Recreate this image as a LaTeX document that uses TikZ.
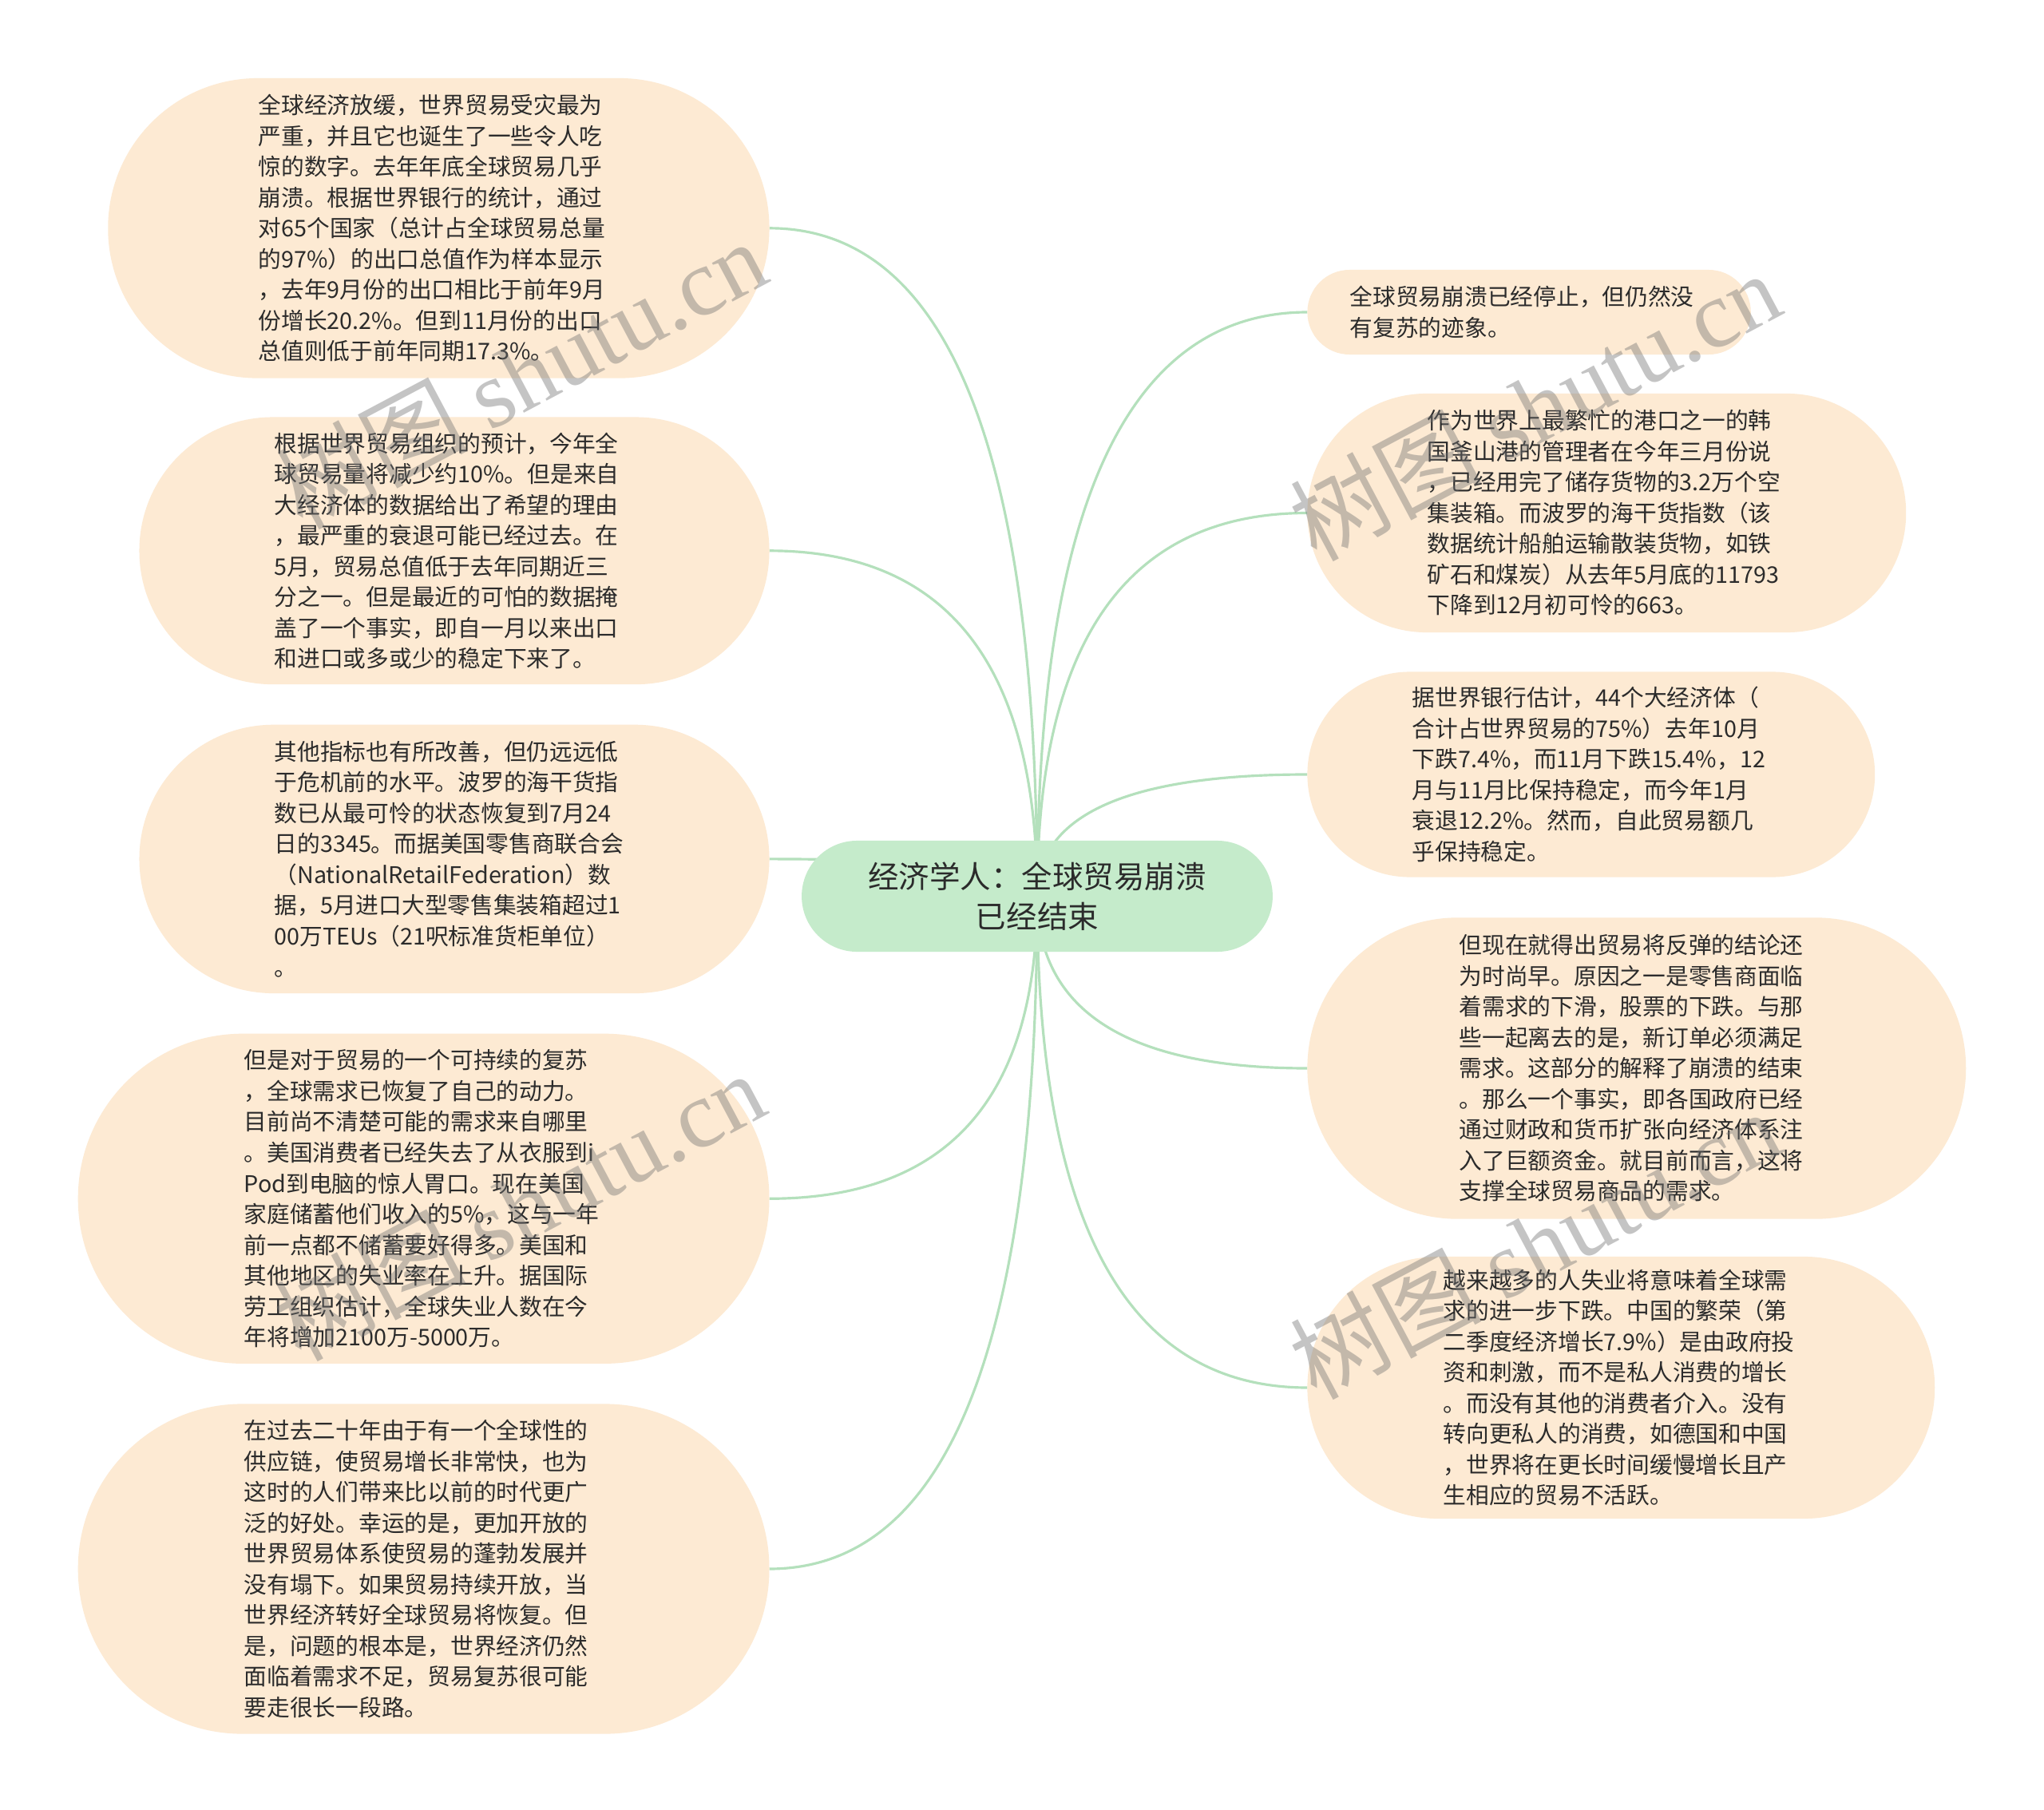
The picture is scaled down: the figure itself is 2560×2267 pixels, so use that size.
\documentclass[tikz,border=0pt]{standalone}
\usepackage{fontspec}
\setmainfont{Noto Sans CJK SC}
\newfontfamily\wmcjk{Noto Sans CJK SC}
\newfontfamily\wmlat{Liberation Serif}
\usetikzlibrary{calc,backgrounds}
\definecolor{peach}{HTML}{FDEAD3}
\definecolor{rootgreen}{HTML}{C5EBCB}
\definecolor{linkgreen}{HTML}{B4E0BC}
\definecolor{txt}{HTML}{2B2B2B}
\begin{document}
\begin{tikzpicture}[x=0.01cm,y=-0.01cm,
  bubble/.style={draw=none, fill=peach, rectangle, inner sep=0pt, outer sep=0pt},
  body/.style={anchor=west, align=left, inner sep=0pt, text=txt, font=\fontsize{8.17pt}{10.95pt}\selectfont},
  link/.style={draw=linkgreen, line width=0.9pt},
  wm/.style={rotate=28, text=black!55, text opacity=0.42, inner sep=0pt, font=\fontsize{34pt}{34pt}\selectfont}
]
\useasboundingbox (0,0) rectangle (2560,2267);

% root
\node[fill=rootgreen, minimum width=5.895cm, minimum height=1.39cm, rounded corners=0.694cm,
  align=center, inner sep=0pt, text=txt, font=\fontsize{10.95pt}{14.4pt}\selectfont] (R) at (1299,1122.5)
  {经济学人：全球贸易崩溃\\已经结束};

% left bubbles
\node[bubble, minimum width=8.278cm, minimum height=3.755cm, rounded corners=1.875cm] (L1) at (549.4,285.8) {};
\node[bubble, minimum width=7.886cm, minimum height=3.345cm, rounded corners=1.67cm] (L2) at (569,689.8) {};
\node[bubble, minimum width=7.886cm, minimum height=3.362cm, rounded corners=1.68cm] (L3) at (569,1075.9) {};
\node[bubble, minimum width=8.653cm, minimum height=4.13cm, rounded corners=2.06cm] (L4) at (530.6,1501.3) {};
\node[bubble, minimum width=8.653cm, minimum height=4.13cm, rounded corners=2.06cm] (L5) at (530.6,1965) {};

% right bubbles
\node[bubble, minimum width=5.551cm, minimum height=1.06cm, rounded corners=0.529cm] (R1) at (1915.1,391) {};
\node[bubble, minimum width=7.494cm, minimum height=2.99cm, rounded corners=1.494cm] (R2) at (2012.3,642.5) {};
\node[bubble, minimum width=7.104cm, minimum height=2.57cm, rounded corners=1.284cm] (R3) at (1992.8,970) {};
\node[bubble, minimum width=8.244cm, minimum height=3.772cm, rounded corners=1.885cm] (R4) at (2049.8,1338) {};
\node[bubble, minimum width=7.854cm, minimum height=3.28cm, rounded corners=1.639cm] (R5) at (2030.3,1738) {};

% connectors
\begin{scope}[on background layer]
\fill[white] (0,0) rectangle (2560,2267);
\foreach \n/\a in {L1/east,L2/east,L3/east,L4/east,L5/east,R1/west,R2/west,R3/west,R4/west,R5/west}{
  \draw[link] (R.center) .. controls ($(R.center)!0.6667!(R.center |- \n.\a)$) and ($(\n.\a)!0.6667!(R.center |- \n.\a)$) .. (\n.\a);
}
\end{scope}

% texts
\node[body] (tL1) at (323,285.8) {全球经济放缓，世界贸易受灾最为\\严重，并且它也诞生了一些令人吃\\惊的数字。去年年底全球贸易几乎\\崩溃。根据世界银行的统计，通过\\对65个国家（总计占全球贸易总量\\的97\%）的出口总值作为样本显示\\，去年9月份的出口相比于前年9月\\份增长20.2\%。但到11月份的出口\\总值则低于前年同期17.3\%。};
\node[body] (tL2) at (343,689.8) {根据世界贸易组织的预计，今年全\\球贸易量将减少约10\%。但是来自\\大经济体的数据给出了希望的理由\\，最严重的衰退可能已经过去。在\\5月，贸易总值低于去年同期近三\\分之一。但是最近的可怕的数据掩\\盖了一个事实，即自一月以来出口\\和进口或多或少的稳定下来了。};
\node[body] (tL3) at (343,1076) {其他指标也有所改善，但仍远远低\\于危机前的水平。波罗的海干货指\\数已从最可怜的状态恢复到7月24\\日的3345。而据美国零售商联合会\\（NationalRetailFederation）数\\据，5月进口大型零售集装箱超过1\\00万TEUs（21呎标准货柜单位）\\。};
\node[body] (tL4) at (305,1501.3) {但是对于贸易的一个可持续的复苏\\，全球需求已恢复了自己的动力。\\目前尚不清楚可能的需求来自哪里\\。美国消费者已经失去了从衣服到i\\Pod到电脑的惊人胃口。现在美国\\家庭储蓄他们收入的5\%，这与一年\\前一点都不储蓄要好得多。美国和\\其他地区的失业率在上升。据国际\\劳工组织估计，全球失业人数在今\\年将增加2100万-5000万。};
\node[body] (tL5) at (305,1965) {在过去二十年由于有一个全球性的\\供应链，使贸易增长非常快，也为\\这时的人们带来比以前的时代更广\\泛的好处。幸运的是，更加开放的\\世界贸易体系使贸易的蓬勃发展并\\没有塌下。如果贸易持续开放，当\\世界经济转好全球贸易将恢复。但\\是，问题的根本是，世界经济仍然\\面临着需求不足，贸易复苏很可能\\要走很长一段路。};
\node[body] (tR1) at (1690,391) {全球贸易崩溃已经停止，但仍然没\\有复苏的迹象。};
\node[body] (tR2) at (1787,642.5) {作为世界上最繁忙的港口之一的韩\\国釜山港的管理者在今年三月份说\\，已经用完了储存货物的3.2万个空\\集装箱。而波罗的海干货指数（该\\数据统计船舶运输散装货物，如铁\\矿石和煤炭）从去年5月底的11793\\下降到12月初可怜的663。};
\node[body] (tR3) at (1768,970) {据世界银行估计，44个大经济体（\\合计占世界贸易的75\%）去年10月\\下跌7.4\%，而11月下跌15.4\%，12\\月与11月比保持稳定，而今年1月\\衰退12.2\%。然而，自此贸易额几\\乎保持稳定。};
\node[body] (tR4) at (1827,1338) {但现在就得出贸易将反弹的结论还\\为时尚早。原因之一是零售商面临\\着需求的下滑，股票的下跌。与那\\些一起离去的是，新订单必须满足\\需求。这部分的解释了崩溃的结束\\。那么一个事实，即各国政府已经\\通过财政和货币扩张向经济体系注\\入了巨额资金。就目前而言，这将\\支撑全球贸易商品的需求。};
\node[body] (tR5) at (1807,1738) {越来越多的人失业将意味着全球需\\求的进一步下跌。中国的繁荣（第\\二季度经济增长7.9\%）是由政府投\\资和刺激，而不是私人消费的增长\\。而没有其他的消费者介入。没有\\转向更私人的消费，如德国和中国\\，世界将在更长时间缓慢增长且产\\生相应的贸易不活跃。};

% watermarks
\node[wm] (wm1) at (652,468) {{\wmcjk 树图} {\wmlat shutu.cn}};
\node[wm] (wm2) at (1922,508) {{\wmcjk 树图} {\wmlat shutu.cn}};
\node[wm] (wm3) at (650,1510) {{\wmcjk 树图} {\wmlat shutu.cn}};
\node[wm] (wm4) at (1922,1558) {{\wmcjk 树图} {\wmlat shutu.cn}};
\end{tikzpicture}
\end{document}
